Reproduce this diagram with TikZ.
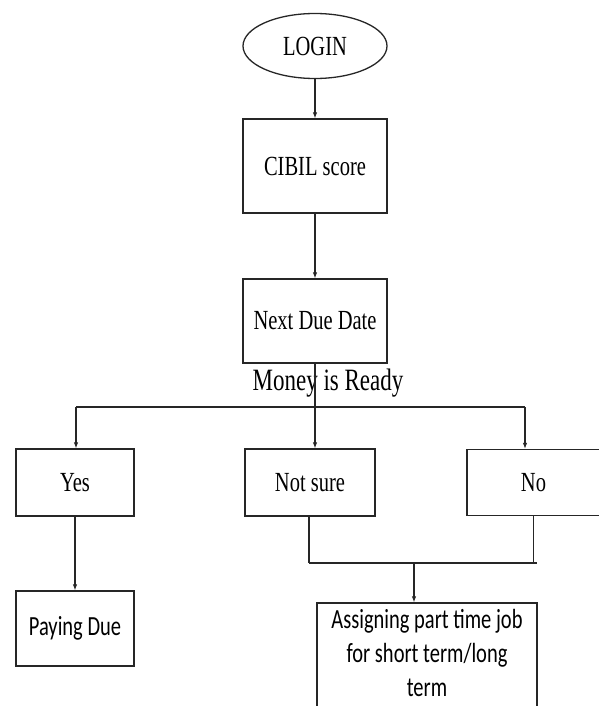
\documentclass[tikz,border=0pt]{standalone}
\usepackage{fontspec}
\setmainfont{Liberation Serif}
\newfontfamily\calfont{Carlito}
\usetikzlibrary{shapes.geometric,arrows.meta}
\newcommand{\st}[1]{\scalebox{1}[1.35]{#1}}
\tikzset{
  every node/.style={font=\fontsize{20.5}{25}\selectfont},
  box/.style={draw=black!85, line width=1.3pt, rectangle, inner sep=0pt},
  conn/.style={draw=black!85, line width=1.1pt},
  arr/.style={conn, -{Latex[length=6pt,width=4.5pt]}},
  bar/.style={draw=black!85, line width=2pt}
}
\begin{document}
\begin{tikzpicture}[x=1pt,y=-1pt]
\useasboundingbox (0,0) rectangle (598,706);
\node[draw=black!85, line width=1.3pt, ellipse, minimum width=144pt, minimum height=65pt, inner sep=0pt] (login) at (315,46) {\st{LOGIN}};
\node[box, minimum width=144pt, minimum height=94pt] (cibil) at (315,166) {\st{CIBIL score}};
\node[box, minimum width=144pt, minimum height=84pt] (next) at (315,321) {\st{Next Due Date}};
\node[inner sep=0pt, font=\fontsize{23}{27}\selectfont] (money) at (328,383) {\st{Money is Ready}};
\node[box, minimum width=118pt, minimum height=67pt] (yes) at (75,482.5) {\st{Yes}};
\node[box, minimum width=130pt, minimum height=67pt] (notsure) at (310,482.5) {\st{Not sure}};
\node[box, minimum width=133pt, minimum height=66pt] (no) at (533.5,482.5) {\st{No}};
\node[box, minimum width=118pt, minimum height=75pt] (paying) at (75,628.5) {\calfont\st{Paying Due}};
\node[box, minimum width=220pt, minimum height=105pt, align=center] (assign) at (427,655.5) {\calfont\st{\begin{tabular}{@{}c@{}}Assigning part time job\\for short term/long\\term\end{tabular}}};
\coordinate (hl) at (76,407);
\coordinate (hr) at (525,407);
\coordinate (jl) at (309,563);
\coordinate (jr) at (537,563);
\coordinate (jm) at (414,563);
\draw[arr] (login) -- (cibil);
\draw[arr] (cibil) -- (next);
\draw[arr] (next.south) -- (next.south |- notsure.north);
\draw[bar] (hl) -- (hr);
\draw[arr] (hl) -- (hl |- yes.north);
\draw[arr] (hr) -- (hr |- no.north);
\draw[arr] (yes) -- (paying);
\draw[conn] (jl |- notsure.south) -- (jl);
\draw[conn] (no.south) -- (no.south |- jr);
\draw[bar] (jl) -- (jr);
\draw[arr] (jm) -- (jm |- assign.north);
\end{tikzpicture}
\end{document}
